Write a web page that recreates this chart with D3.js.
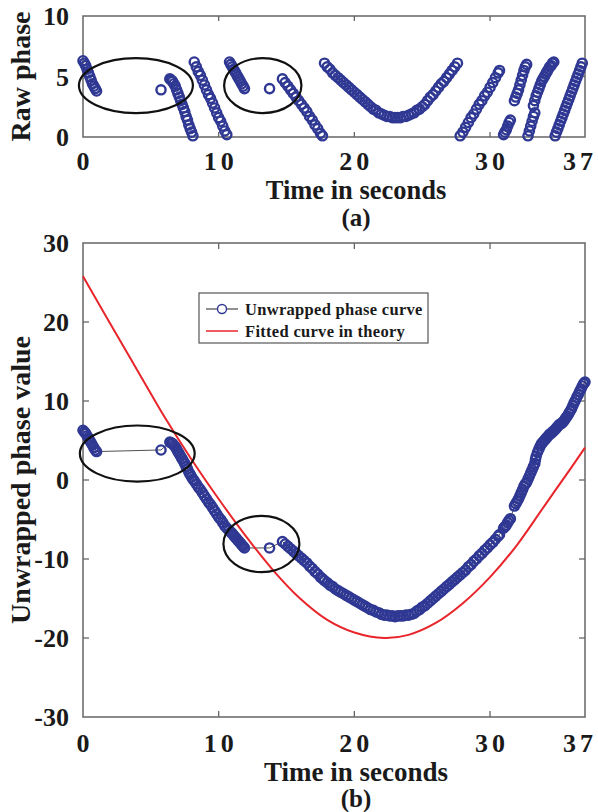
<!DOCTYPE html>
<html><head><meta charset="utf-8">
<script src="https://cdn.jsdelivr.net/npm/d3@7"></script>
<style>
html,body{margin:0;padding:0;background:#fff;}
svg text{font-family:"Liberation Serif","Times New Roman",serif;font-weight:bold;fill:#1a1a1a;}
</style></head>
<body>
<svg id="chart" width="598" height="812"></svg>
<script>
// ---------- data ----------
const xTicks = [0, 10, 20, 30, 37];
const rawYTicks = [0, 5, 10];
const unwrapYTicks = [-30, -20, -10, 0, 10, 20, 30];

// (a) raw phase samples: time (s) and phase
const rawTime = [
  0.0,0.1,0.2,0.3,0.4,0.5,0.6,0.7,0.8,0.9,1.0,
  5.75,
  6.4,6.5,6.6,6.7,6.8,6.9,7.0,7.1,7.2,7.3,7.4,7.5,7.6,7.7,7.8,7.9,8.0,8.1,
  8.2,8.35,8.5,8.65,8.8,8.95,9.1,9.25,9.4,9.55,9.7,9.85,10.0,10.15,10.3,10.45,10.6,
  10.8,10.9,11.0,11.1,11.2,11.3,11.4,11.5,11.6,11.7,11.8,11.9,
  13.75,
  14.7,14.9,15.1,15.3,15.5,15.7,15.9,16.1,16.3,16.5,16.7,16.9,17.1,17.3,17.5,17.65,
  17.8,18.0,18.2,18.4,18.6,18.8,19.0,19.2,19.4,19.6,19.8,20.0,20.2,20.4,20.6,20.8,21.0,21.2,21.4,21.6,21.8,
  22.0,22.2,22.4,22.6,22.8,23.0,23.2,23.4,23.6,23.8,24.0,24.2,24.4,24.6,24.8,25.0,25.2,25.4,25.6,25.8,
  26.0,26.2,26.4,26.6,26.8,27.0,27.2,27.4,27.6,
  27.8,28.0,28.2,28.4,28.6,28.8,29.0,29.2,29.4,29.6,29.8,30.0,30.2,30.4,30.6,30.7,
  31.0,31.1,31.2,31.3,31.4,31.5,
  31.8,31.9,32.0,32.1,32.2,32.3,32.4,32.5,32.6,32.7,
  32.8,32.9,33.0,33.1,33.2,33.3,
  33.2,33.3,33.4,33.5,33.6,33.7,33.8,33.9,34.0,34.1,34.2,34.3,34.4,34.5,34.6,34.7,
  34.8,34.9,35.0,35.1,35.2,35.3,35.4,35.5,35.6,35.7,35.8,35.9,36.0,36.1,36.2,36.3,36.4,36.5,36.6,36.7,36.8
];
const rawPhase = [
  6.3,6.1,5.9,5.6,5.3,5.0,4.7,4.4,4.2,4.0,3.8,
  3.9,
  4.8,4.7,4.6,4.4,4.2,3.9,3.6,3.3,3.0,2.7,2.4,2.1,1.7,1.4,1.0,0.7,0.4,0.1,
  6.2,5.8,5.4,5.1,4.7,4.3,3.9,3.5,3.2,2.8,2.4,2.0,1.6,1.3,0.9,0.5,0.2,
  6.2,6.0,5.8,5.6,5.4,5.2,5.0,4.8,4.6,4.4,4.2,4.0,
  4.0,
  4.8,4.5,4.2,3.9,3.6,3.3,3.0,2.7,2.4,2.1,1.7,1.4,1.0,0.7,0.3,0.1,
  6.1,5.8,5.6,5.3,5.1,4.9,4.7,4.5,4.3,4.1,3.9,3.7,3.5,3.3,3.1,2.9,2.7,2.5,2.3,2.2,2.0,
  1.9,1.8,1.7,1.7,1.6,1.6,1.6,1.6,1.7,1.7,1.8,1.9,2.0,2.2,2.3,2.5,2.7,3.0,3.3,3.5,
  3.8,4.1,4.4,4.6,4.9,5.2,5.5,5.8,6.1,
  0.1,0.4,0.8,1.2,1.6,1.9,2.3,2.7,3.0,3.4,3.7,4.1,4.5,4.9,5.3,5.5,
  0.2,0.4,0.6,0.9,1.2,1.4,
  3.0,3.3,3.6,3.9,4.3,4.7,5.1,5.5,5.8,6.0,
  0.1,0.5,0.9,1.3,1.7,2.0,
  2.6,3.0,3.4,3.7,4.0,4.3,4.6,4.8,5.0,5.2,5.4,5.6,5.8,5.9,6.1,6.2,
  0.1,0.4,0.7,1.0,1.3,1.6,1.9,2.2,2.5,2.8,3.1,3.4,3.7,4.0,4.3,4.6,4.9,5.2,5.5,5.8,6.1
];

// (b) unwrapped phase samples
const unwrapTime = [
  0.0,0.1,0.2,0.3,0.4,0.5,0.6,0.7,0.8,0.9,1.0,
  5.75,
  6.4,6.5,6.6,6.7,6.8,6.9,7.0,7.1,7.2,7.3,7.4,7.5,7.6,7.7,7.8,7.9,8.0,8.1,
  8.2,8.35,8.5,8.65,8.8,8.95,9.1,9.25,9.4,9.55,9.7,9.85,10.0,10.15,10.3,10.45,10.6,
  10.75,10.9,11.0,11.1,11.2,11.3,11.4,11.5,11.6,11.7,11.8,11.9,
  13.75,
  14.7,14.9,15.1,15.3,15.5,15.7,15.9,16.1,16.3,16.5,16.7,16.9,17.1,17.3,17.5,17.65,
  17.8,18.0,18.2,18.4,18.6,18.8,19.0,19.2,19.4,19.6,19.8,20.0,20.2,20.4,20.6,20.8,21.0,21.2,21.4,21.6,21.8,
  22.0,22.2,22.4,22.6,22.8,23.0,23.2,23.4,23.6,23.8,24.0,24.2,24.4,24.6,24.8,25.0,25.2,25.4,25.6,25.8,
  26.0,26.2,26.4,26.6,26.8,27.0,27.2,27.4,27.6,27.8,28.0,28.2,28.4,28.6,28.8,29.0,29.2,29.4,29.6,29.8,
  30.0,30.2,30.4,30.6,30.7,
  31.0,31.1,31.2,31.3,31.4,31.5,
  31.8,31.9,32.0,32.1,32.2,32.3,32.4,32.5,32.6,32.7,
  32.8,32.9,33.0,33.1,33.2,33.3,33.35,33.4,33.5,33.6,33.7,33.8,33.9,34.0,34.1,34.2,34.3,34.4,34.5,34.6,34.7,
  34.8,34.9,35.0,35.1,35.2,35.3,35.4,35.5,35.6,35.7,35.8,35.9,36.0,36.1,36.2,36.3,36.4,36.5,36.6,36.7,36.8,36.9,37.0
];
const unwrapPhase = [
  6.3,6.1,5.9,5.6,5.3,5.0,4.7,4.4,4.1,3.8,3.6,
  3.8,
  4.8,4.7,4.6,4.4,4.2,3.9,3.6,3.3,3.0,2.7,2.4,2.1,1.7,1.4,1.0,0.7,0.4,0.1,
  -0.1,-0.5,-0.9,-1.2,-1.6,-2.0,-2.4,-2.8,-3.1,-3.5,-3.9,-4.3,-4.7,-5.0,-5.4,-5.8,-6.1,
  -6.35,-6.6,-6.8,-7.0,-7.2,-7.4,-7.6,-7.8,-8.0,-8.2,-8.4,-8.6,
  -8.6,
  -7.8,-8.1,-8.4,-8.7,-9.0,-9.3,-9.6,-9.9,-10.2,-10.5,-10.9,-11.2,-11.6,-11.9,-12.3,-12.5,
  -12.75,-13.0,-13.3,-13.5,-13.8,-14.0,-14.2,-14.4,-14.6,-14.8,-15.0,-15.2,-15.4,-15.6,-15.8,-16.0,-16.2,-16.4,-16.5,-16.7,-16.8,
  -17.0,-17.1,-17.1,-17.2,-17.2,-17.3,-17.2,-17.2,-17.2,-17.1,-17.1,-17.0,-16.9,-16.6,-16.4,-16.1,-15.9,-15.6,-15.3,-15.0,
  -14.7,-14.4,-14.1,-13.8,-13.5,-13.2,-12.9,-12.6,-12.3,-12.0,-11.7,-11.4,-11.0,-10.7,-10.3,-10.0,-9.6,-9.3,-8.9,-8.6,
  -8.2,-7.9,-7.5,-7.1,-6.9,
  -6.1,-5.9,-5.7,-5.4,-5.1,-4.9,
  -3.3,-3.0,-2.7,-2.4,-2.0,-1.6,-1.2,-0.8,-0.5,-0.3,
  0.1,0.5,0.9,1.3,1.7,2.1,2.6,3.0,3.5,3.9,4.3,4.6,4.8,5.0,5.2,5.4,5.6,5.8,5.9,6.1,6.2,
  6.4,6.6,6.8,7.0,7.1,7.2,7.4,7.6,7.9,8.1,8.4,8.7,9.0,9.4,9.8,10.1,10.5,10.8,11.2,11.5,11.9,12.2,12.4
];

// fitted theoretical curve, read at sample times
const fitTime  = [0, 2, 4, 6, 8, 10, 12, 14, 16, 18, 20, 22.2, 24, 26, 28, 30, 32, 34, 36, 37];
const fitPhase = [25.8, 19.8, 13.9, 8.0, 2.6, -2.4, -7.1, -11.4, -15.0, -17.7, -19.3, -20.0, -19.6, -18.1, -15.6, -12.3, -8.2, -3.3, 1.6, 4.1];

// annotation ellipses [centre time, centre value, half-width (s), half-height (value units)]
const rawEllipses = [[3.9, 4.25, 4.2, 2.27], [13.25, 4.25, 2.85, 2.27]];
const unwrapEllipses = [[4.0, 3.35, 4.23, 3.55], [13.15, -8.1, 2.8, 3.55]];

const legendLabels = ["Unwrapped phase curve", "Fitted curve in theory"];

// ---------- drawing ----------
const svg = d3.select("#chart");
const BLUE = "#2f3893", RED = "#e8252b", AXIS = "#666";
const L = 83, R = 585;
const MR = 4.6, MSW = 2.4;

function frame(g, x, y, yt, yTitle, tickLen, xLabelOffset) {
  const [y0, y1] = y.range();
  xTicks.filter(t => t > 0 && t < 37).forEach(t => {
    g.append("line").attr("x1", x(t)).attr("x2", x(t)).attr("y1", y0).attr("y2", y0 - tickLen).attr("stroke", AXIS).attr("stroke-width", 1.3);
    g.append("line").attr("x1", x(t)).attr("x2", x(t)).attr("y1", y1).attr("y2", y1 + tickLen).attr("stroke", AXIS).attr("stroke-width", 1.3);
  });
  yt.slice(1, -1).forEach(v => {
    g.append("line").attr("x1", L).attr("x2", L + tickLen).attr("y1", y(v)).attr("y2", y(v)).attr("stroke", AXIS).attr("stroke-width", 1.3);
    g.append("line").attr("x1", R).attr("x2", R - tickLen).attr("y1", y(v)).attr("y2", y(v)).attr("stroke", AXIS).attr("stroke-width", 1.3);
  });
  g.append("rect").attr("x", L).attr("y", y1).attr("width", R - L).attr("height", y0 - y1)
    .attr("fill", "none").attr("stroke", AXIS).attr("stroke-width", 1.5);
  g.selectAll(".yl").data(yt).enter().append("text")
    .attr("x", 69).attr("y", d => y(d)).attr("dy", "0.35em").attr("text-anchor", "end")
    .attr("font-size", 26).text(d => d);
  g.selectAll(".xl").data(xTicks).enter().append("text")
    .attr("x", d => d === 37 ? 597 : x(d) + (d >= 10 ? 2 : 0)).attr("y", y0 + xLabelOffset)
    .attr("text-anchor", d => d === 37 ? "end" : "middle")
    .attr("font-size", 26).attr("letter-spacing", d => d >= 10 ? "4px" : "0px").text(d => d);
  g.append("text").attr("transform", `translate(30,${(y0 + y1) / 2}) rotate(-90)`)
    .attr("text-anchor", "middle").attr("font-size", 28).text(yTitle);
}

// (a) raw phase
const xA = d3.scaleLinear().domain([0, 37]).range([L, R]);
const yA = d3.scaleLinear().domain([0, 10]).range([137, 16]);
const gA = svg.append("g");
frame(gA, xA, yA, rawYTicks, "Raw phase", 5, 33);
gA.selectAll("circle.p").data(rawTime.map((t, i) => [t, rawPhase[i]])).enter().append("circle")
  .attr("cx", d => xA(d[0])).attr("cy", d => yA(d[1])).attr("r", MR)
  .attr("fill", "none").attr("stroke", BLUE).attr("stroke-width", MSW);
gA.selectAll("ellipse").data(rawEllipses).enter().append("ellipse")
  .attr("cx", d => xA(d[0])).attr("cy", d => yA(d[1]))
  .attr("rx", d => xA(d[2]) - xA(0)).attr("ry", d => yA(0) - yA(d[3]))
  .attr("fill", "none").attr("stroke", "#111").attr("stroke-width", 2.2);
gA.append("text").attr("x", 356).attr("y", 199).attr("text-anchor", "middle").attr("font-size", 26.5).text("Time in seconds");
gA.append("text").attr("x", 356).attr("y", 226).attr("text-anchor", "middle").attr("font-size", 25).text("(a)");

// (b) unwrapped phase
const xB = d3.scaleLinear().domain([0, 37]).range([L, R]);
const yB = d3.scaleLinear().domain([-30, 30]).range([717, 243]);
const gB = svg.append("g");
frame(gB, xB, yB, unwrapYTicks, "Unwrapped phase value", 6, 35);
const uPts = unwrapTime.map((t, i) => [t, unwrapPhase[i]]);
gB.append("path").datum(uPts)
  .attr("d", d3.line().x(d => xB(d[0])).y(d => yB(d[1])))
  .attr("fill", "none").attr("stroke", "#222").attr("stroke-width", 0.8);
gB.selectAll("circle.p").data(uPts).enter().append("circle")
  .attr("cx", d => xB(d[0])).attr("cy", d => yB(d[1])).attr("r", MR)
  .attr("fill", "none").attr("stroke", BLUE).attr("stroke-width", MSW);
gB.append("path").datum(fitTime.map((t, i) => [t, fitPhase[i]]))
  .attr("d", d3.line().curve(d3.curveCatmullRom.alpha(0.5)).x(d => xB(d[0])).y(d => yB(d[1])))
  .attr("fill", "none").attr("stroke", RED).attr("stroke-width", 2);
gB.selectAll("ellipse").data(unwrapEllipses).enter().append("ellipse")
  .attr("cx", d => xB(d[0])).attr("cy", d => yB(d[1]))
  .attr("rx", d => xB(d[2]) - xB(0)).attr("ry", d => yB(0) - yB(d[3]))
  .attr("fill", "none").attr("stroke", "#111").attr("stroke-width", 2.2);
gB.append("text").attr("x", 356).attr("y", 781).attr("text-anchor", "middle").attr("font-size", 27).text("Time in seconds");
gB.append("text").attr("x", 356).attr("y", 807).attr("text-anchor", "middle").attr("font-size", 25).text("(b)");

// legend
const lg = svg.append("g");
lg.append("rect").attr("x", 199).attr("y", 293).attr("width", 229).attr("height", 50)
  .attr("fill", "#fff").attr("stroke", "#555").attr("stroke-width", 1.2);
lg.append("line").attr("x1", 206).attr("x2", 238).attr("y1", 309).attr("y2", 309).attr("stroke", "#222").attr("stroke-width", 1);
lg.append("circle").attr("cx", 222).attr("cy", 309).attr("r", 4.5).attr("fill", "#fff").attr("stroke", BLUE).attr("stroke-width", 1.4);
lg.append("line").attr("x1", 206).attr("x2", 238).attr("y1", 331).attr("y2", 331).attr("stroke", RED).attr("stroke-width", 1.5);
lg.selectAll("text").data(legendLabels).enter().append("text")
  .attr("x", 245).attr("y", (d, i) => 309 + i * 22).attr("dy", "0.35em")
  .attr("font-size", 16.5).attr("letter-spacing", "0.3px").text(d => d);
</script>
</body></html>
